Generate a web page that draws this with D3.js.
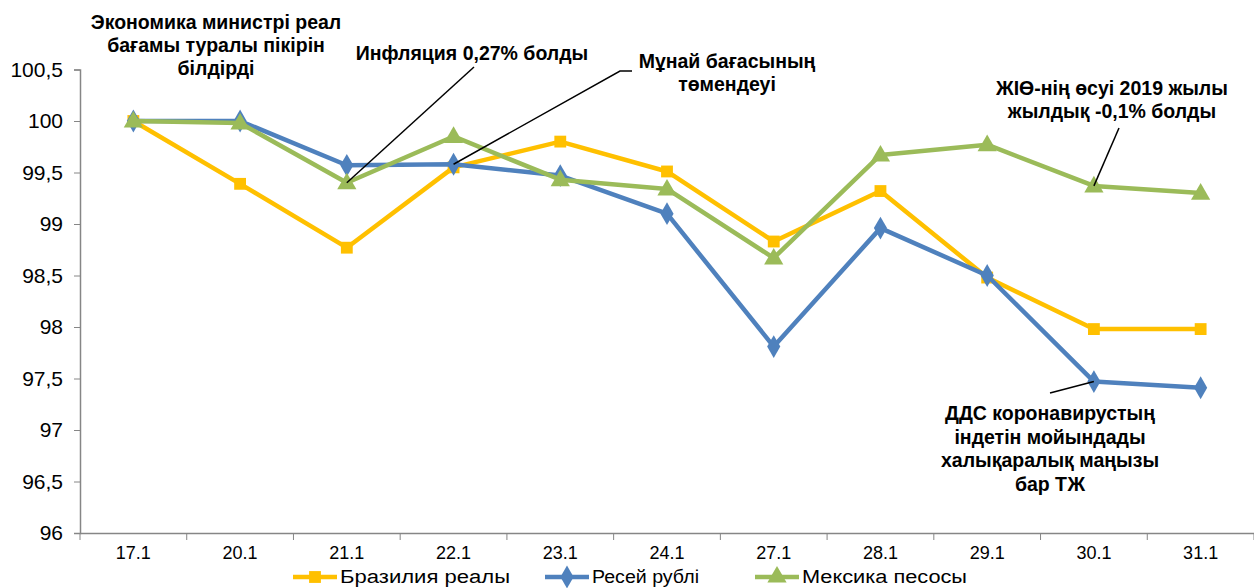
<!DOCTYPE html>
<html><head><meta charset="utf-8">
<script src="https://cdn.jsdelivr.net/npm/d3@7"></script>
<style>body{margin:0;background:#fff}svg{display:block;font-family:"Liberation Sans",Arial,sans-serif}</style>
</head><body><svg id="c" width="1254" height="588"></svg>
<script>
const categories = ["17.1","20.1","21.1","22.1","23.1","24.1","27.1","28.1","29.1","30.1","31.1"];
const brazil = [100, 99.39, 98.77, 99.55, 99.80, 99.51, 98.83, 99.32, 98.48, 97.98, 97.98];
const russia = [100, 100, 99.57, 99.58, 99.47, 99.10, 97.81, 98.96, 98.50, 97.47, 97.41];
const mexico = [100, 99.98, 99.40, 99.85, 99.43, 99.34, 98.67, 99.67, 99.77, 99.37, 99.30];
const yTicks = [96, 96.5, 97, 97.5, 98, 98.5, 99, 99.5, 100, 100.5];
const seriesNames = ["Бразилия  реалы", "Ресей рублі", "Мексика песосы"];

const svg = d3.select("#c");
const x = d3.scaleBand().domain(categories).range([80, 1254]);
const y = d3.scaleLinear().domain([96, 100.5]).range([533, 69.5]);
const axisColor = "#868686";

// y axis
const ya = svg.append("g").attr("transform","translate(80,0)")
  .call(d3.axisLeft(y).tickValues(yTicks).tickSize(6).tickPadding(11)
    .tickFormat(d => String(d).replace(".", ",")));
ya.select(".domain").attr("stroke", axisColor).attr("stroke-width",1.5);
ya.selectAll(".tick line").attr("stroke", axisColor);
ya.selectAll("text").attr("font-size", 21).attr("fill","#000").attr("font-family","Liberation Sans, Arial");

// x axis
const xa = svg.append("g").attr("transform","translate(0,533)")
  .call(d3.axisBottom(x).tickSize(0).tickPadding(13));
xa.select(".domain").attr("stroke", axisColor).attr("stroke-width",1.5);
xa.selectAll("text").attr("font-size", 18).attr("fill","#000").attr("font-family","Liberation Sans, Arial");
svg.append("g").selectAll("line").data(categories.concat(["_end"])).join("line")
  .attr("x1", (d,i) => 80 + i * x.bandwidth()).attr("x2", (d,i) => 80 + i * x.bandwidth())
  .attr("y1", 533).attr("y2", 540).attr("stroke", axisColor);

const cx = d => x(d) + x.bandwidth()/2;
const series = [
  {name: seriesNames[0], vals: brazil, color: "#FFC000", sym: d3.symbolSquare, size: 140, tl: 170},
  {name: seriesNames[1], vals: russia, color: "#4F81BD", sym: d3.symbolDiamond, size: 150, tl: 107},
  {name: seriesNames[2], vals: mexico, color: "#9BBB59", sym: d3.symbolTriangle, size: 160, tl: 165},
];
const line = d3.line().x((d,i) => cx(categories[i])).y(d => y(d));
series.forEach(s => {
  svg.append("path").attr("d", line(s.vals)).attr("fill","none")
    .attr("stroke", s.color).attr("stroke-width", 4.5).attr("stroke-linejoin","round");
  svg.append("g").selectAll("path").data(s.vals).join("path")
    .attr("d", d3.symbol().type(s.sym).size(s.size))
    .attr("transform", (d,i) => `translate(${cx(categories[i])},${y(d) + (s.sym===d3.symbolTriangle?1:0)})`)
    .attr("fill", s.color);
});

// annotations
const ann = svg.append("g").attr("font-weight","bold").attr("font-size",19.5).attr("fill","#000").attr("text-anchor","middle");
function textBlock(lines, xc, y0, dy) {
  lines.forEach((t,i) => ann.append("text").attr("x", xc).attr("y", y0 + i*dy).text(t));
}
textBlock(["Экономика министрі реал","бағамы туралы пікірін","білдірді"], 216, 29, 23);
textBlock(["Инфляция 0,27% болды"], 472, 60, 23);
textBlock(["Мұнай бағасының","төмендеуі"], 727, 68, 22.5);
textBlock(["ЖІӨ-нің өсуі 2019 жылы","жылдық -0,1% болды"], 1112, 95, 22.5);
textBlock(["ДДС коронавирустың","індетін мойындады","халықаралық маңызы","бар ТЖ"], 1050, 420, 23.5);

const leaders = svg.append("g").attr("stroke","#000").attr("stroke-width",1.5).attr("fill","none");
leaders.append("path").attr("d", `M474,67 L${cx("21.1")},${y(mexico[2])}`);
leaders.append("path").attr("d", `M632,71 L620,71 L${cx("22.1")},${y(russia[3])}`);
leaders.append("path").attr("d", `M1119,128 L${cx("30.1")},${y(mexico[9])}`);
leaders.append("path").attr("d", `M1050,393 L${cx("30.1")},${y(russia[9])}`);

// legend
const legX = [293, 545, 755];
const lg = svg.append("g");
series.forEach((s,i) => {
  const g = lg.append("g").attr("transform", `translate(${legX[i]},577)`);
  g.append("line").attr("x1",0).attr("x2",44).attr("stroke", s.color).attr("stroke-width",4.5);
  g.append("path").attr("d", d3.symbol().type(s.sym).size(s.size)).attr("transform","translate(22,0)").attr("fill", s.color);
  g.append("text").attr("x",47).attr("y",6).attr("font-size",18)
    .attr("textLength", s.tl).attr("lengthAdjust","spacingAndGlyphs").text(s.name);
});
</script>
</body></html>
